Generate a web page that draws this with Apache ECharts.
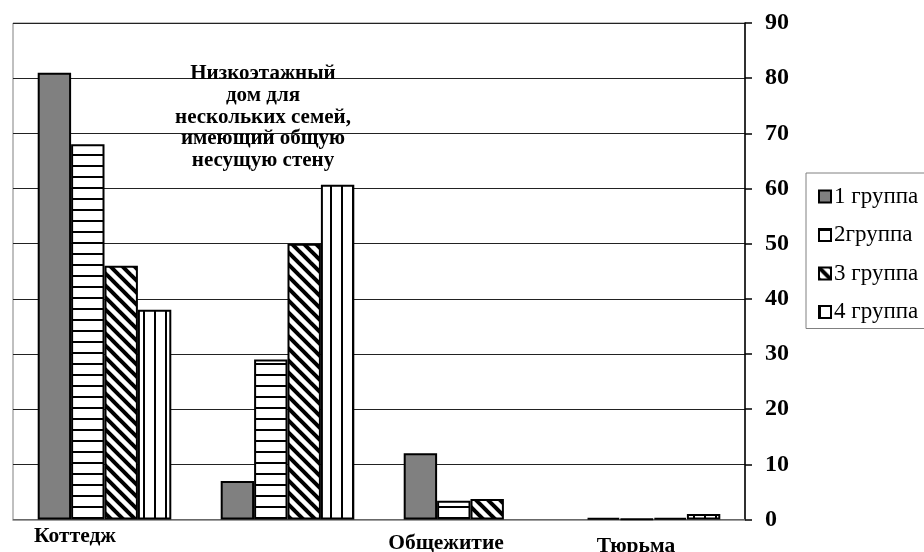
<!DOCTYPE html>
<html>
<head>
<meta charset="utf-8">
<script src="https://cdn.jsdelivr.net/npm/echarts@6/dist/echarts.min.js"></script>
<style>
html,body{margin:0;padding:0;background:#fff}
#chart{width:924px;height:552px}
</style>
</head>
<body>
<div id="chart"></div>
<script>
// data
var categories = ['Коттедж', 'Низкоэтажный\nдом для\nнескольких семей,\nимеющий общую\nнесущую стену', 'Общежитие', 'Тюрьма'];
var group1 = [81, 7, 12, 0.3];
var group2 = [68, 29, 3.4, 0.1];
var group3 = [46, 50, 3.7, 0.3];
var group4 = [38, 60.7, '-', 1.0];
var seriesNames = ['1 группа', '2группа', '3 группа', '4 группа'];
var yTicks = [0, 10, 20, 30, 40, 50, 60, 70, 80, 90];

var serif = '"Liberation Serif","Times New Roman",serif';

// hatch fills like the old excel chart
function hatch(kind){
	var c = document.createElement('canvas');
	var ctx;
	if(kind == 'h'){
		c.width = 4; c.height = 11;
		ctx = c.getContext('2d');
		ctx.fillStyle = '#fff'; ctx.fillRect(0,0,4,11);
		ctx.fillStyle = '#000'; ctx.fillRect(0,0,4,2);
	} else if(kind == 'v'){
		c.width = 11; c.height = 4;
		ctx = c.getContext('2d');
		ctx.fillStyle = '#fff'; ctx.fillRect(0,0,11,4);
		ctx.fillStyle = '#000'; ctx.fillRect(0,0,2,4);
	} else {
		c.width = 12; c.height = 12;
		ctx = c.getContext('2d');
		ctx.fillStyle = '#fff'; ctx.fillRect(0,0,12,12);
		ctx.strokeStyle = '#000'; ctx.lineWidth = 4;
		for(var o=-12;o<=12;o+=12){
			ctx.beginPath(); ctx.moveTo(o-2,-2); ctx.lineTo(o+14,14); ctx.stroke();
		}
	}
	return {image:c, repeat:'repeat'};
}

var fills = ['#808080', hatch('h'), hatch('d'), hatch('v')];
var values = [group1, group2, group3, group4];

// label placement for each category (excel put them a bit off centre)
var labelStyles = [
	{padding:[0,59,0,0]},
	{verticalAlign:'bottom', fontSize:21, lineHeight:21.7, padding:[0,49,354,0]},
	{padding:[7,49,0,0]},
	{padding:[10,35,0,0]}
];
var xData = categories.map(function(name,i){
	return {value:name, textStyle:labelStyles[i]};
});

var series = [];
for(var i=0;i<4;i++){
	series.push({
		name:seriesNames[i],
		type:'bar',
		data:values[i],
		barGap:'0%',
		barCategoryGap:'27%',
		itemStyle:{color:fills[i], borderColor:'#000', borderWidth:2},
		emphasis:{disabled:true}
	});
}

var option = {
	animation:false,
	backgroundColor:'#fff',
	grid:{left:13, right:179, top:23, bottom:32.5, outerBoundsMode:'none', containLabel:false,
		show:true, borderColor:'#808080', borderWidth:1},
	legend:{
		orient:'vertical',
		left:806, top:173,
		padding:[12,40,5,12],
		itemWidth:12, itemHeight:12, itemGap:15.5,
		borderColor:'#808080', borderWidth:1,
		icon:'rect',
		itemStyle:{borderColor:'#000', borderWidth:2},
		textStyle:{fontFamily:serif, fontSize:23, color:'#000', padding:[0,0,0,-2]},
		data:seriesNames
	},
	xAxis:{
		type:'category',
		data:xData,
		axisLine:{lineStyle:{color:'#808080', width:1.5}},
		axisTick:{show:false},
		axisLabel:{interval:0, margin:6, fontFamily:serif, fontWeight:'bold', fontSize:21.5, color:'#000'}
	},
	yAxis:{
		type:'value',
		position:'right',
		min:yTicks[0], max:yTicks[yTicks.length-1], interval:10,
		axisLine:{show:true, lineStyle:{color:'#000', width:1.5}},
		axisTick:{show:true, length:7, lineStyle:{color:'#000', width:1.5}},
		axisLabel:{margin:20, fontFamily:serif, fontWeight:'bold', fontSize:24, color:'#000'},
		splitLine:{lineStyle:{color:'#222', width:1}}
	},
	series:series
};

var chart = echarts.init(document.getElementById('chart'));
chart.setOption(option);
</script>
</body>
</html>
